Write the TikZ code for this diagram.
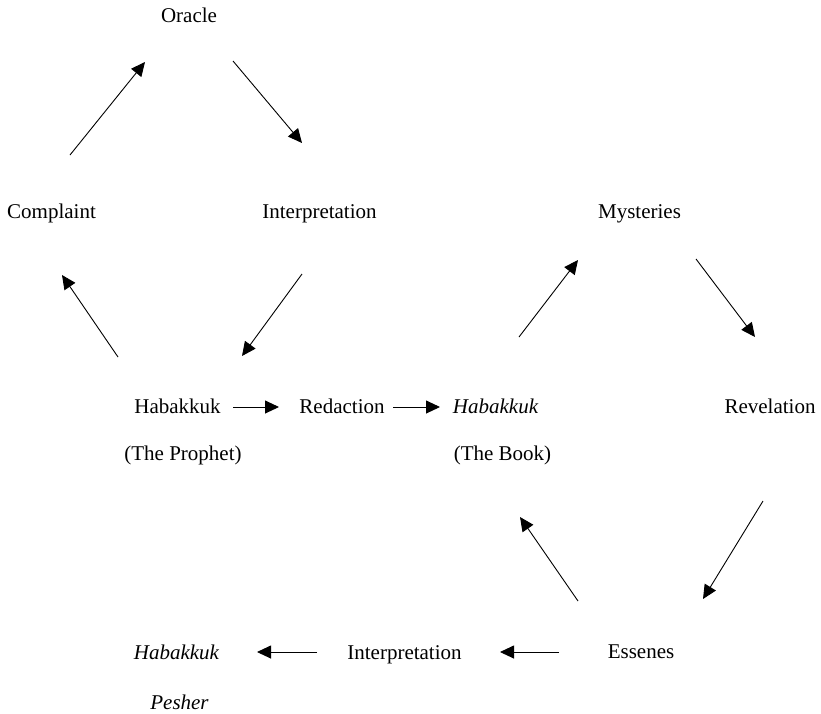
\documentclass[tikz,border=0pt]{standalone}
\usepackage{fontspec}
\setmainfont{Liberation Serif}
\usetikzlibrary{arrows.meta}
\begin{document}
\begin{tikzpicture}[x=1pt,y=-1pt,
  lbl/.style={inner sep=0pt,anchor=base,font=\fontsize{21}{25}\selectfont},
  arr/.style={line width=0.9pt,-{Triangle[length=14pt,width=13pt]}}]
\useasboundingbox (0,0) rectangle (821,713);
% labels
\node[lbl] (oracle) at (189,22) {Oracle};
\node[lbl] (complaint) at (51.5,218) {Complaint};
\node[lbl] (interp1) at (319.5,218) {Interpretation};
\node[lbl] (myst) at (639.5,218) {Mysteries};
\node[lbl] (habp) at (177.5,413) {Habakkuk};
\node[lbl] (red) at (342,413) {Redaction};
\node[lbl] (habb) at (495.5,413) {\itshape Habakkuk};
\node[lbl] (rev) at (770,413) {Revelation};
\node[lbl] (prophet) at (183,460) {(The Prophet)};
\node[lbl] (book) at (502.5,460) {(The Book)};
\node[lbl] (ess) at (641,658) {Essenes};
\node[lbl] (interp2) at (404.5,659) {Interpretation};
\node[lbl] (hpes) at (176.5,659) {\itshape Habakkuk};
\node[lbl] (pesher) at (179.5,709) {\itshape Pesher};
% arrow end points
\coordinate (c1s) at (70,155);   \coordinate (c1e) at (145,62);
\coordinate (c2s) at (233,61);   \coordinate (c2e) at (302,143);
\coordinate (c3s) at (302,274);  \coordinate (c3e) at (242,356);
\coordinate (c4s) at (118,357);  \coordinate (c4e) at (62,275);
\coordinate (c5s) at (233,407);  \coordinate (c5e) at (279,407);
\coordinate (c6s) at (393,407);  \coordinate (c6e) at (440,407);
\coordinate (c7s) at (519,337);  \coordinate (c7e) at (578,260);
\coordinate (c8s) at (696,259);  \coordinate (c8e) at (755,337);
\coordinate (c9s) at (763,501);  \coordinate (c9e) at (703,599);
\coordinate (c10s) at (578,601); \coordinate (c10e) at (520,517);
\coordinate (c11s) at (559,652); \coordinate (c11e) at (500,652);
\coordinate (c12s) at (317,652); \coordinate (c12e) at (257,652);
% arrows
\draw[arr] (c1s) -- (c1e);
\draw[arr] (c2s) -- (c2e);
\draw[arr] (c3s) -- (c3e);
\draw[arr] (c4s) -- (c4e);
\draw[arr] (c5s) -- (c5e);
\draw[arr] (c6s) -- (c6e);
\draw[arr] (c7s) -- (c7e);
\draw[arr] (c8s) -- (c8e);
\draw[arr] (c9s) -- (c9e);
\draw[arr] (c10s) -- (c10e);
\draw[arr] (c11s) -- (c11e);
\draw[arr] (c12s) -- (c12e);
\end{tikzpicture}
\end{document}
